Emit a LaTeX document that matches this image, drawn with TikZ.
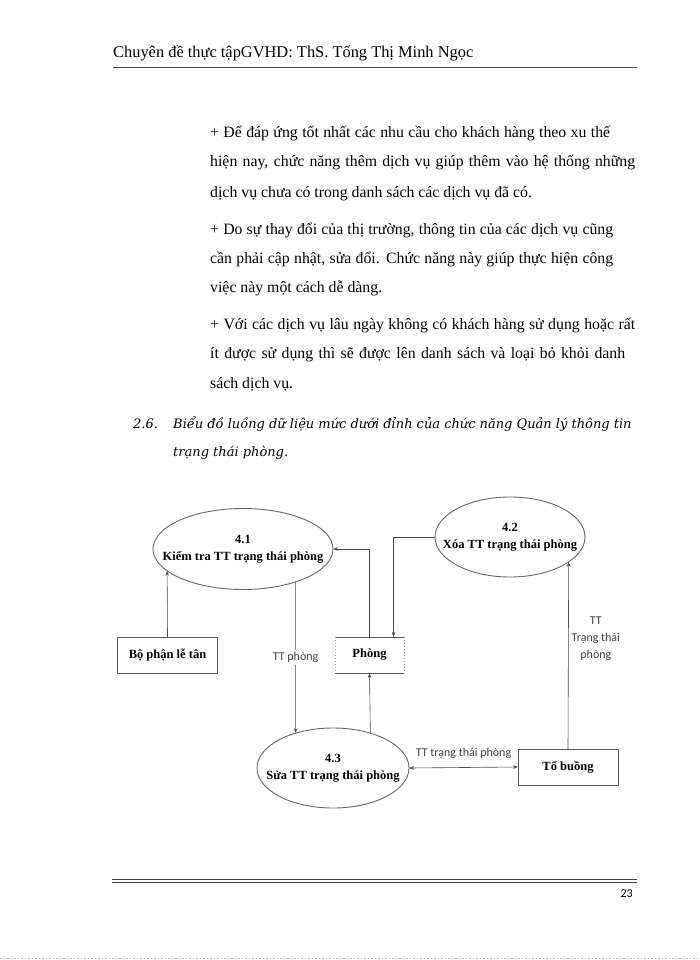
\documentclass[tikz,border=0pt]{standalone}
\usepackage{fontspec}
\setmainfont{Liberation Serif}
\newfontfamily\calibri{Carlito}
\newfontfamily\cambria{DejaVu Serif}
\usetikzlibrary{positioning,shapes.geometric,arrows.meta}
\newcommand\proctext[2]{\makebox[0pt]{#1}\\\makebox[0pt]{#2}}
\begin{document}
\begin{tikzpicture}[x=1pt,y=-1pt,line join=round,>={Stealth[length=5pt,width=3.5pt]}]
\tikzset{
  process/.style={ellipse,draw=black!60,line width=0.9pt,inner sep=0pt,outer sep=0pt,
    align=center,font=\fontsize{12.5}{17}\selectfont\bfseries},
  agent/.style={rectangle,draw=black!65,line width=0.8pt,minimum width=100,minimum height=36,
    inner sep=0pt,outer sep=0pt,font=\fontsize{12.5}{15}\selectfont\bfseries},
  store/.style={rectangle,minimum width=69,minimum height=36,inner sep=0pt,outer sep=0pt,
    font=\fontsize{12.5}{15}\selectfont\bfseries},
  flow/.style={->,draw=black!70,line width=0.6pt},
  flowlabel/.style={font=\calibri\fontsize{12}{17}\selectfont,text=black!75,inner sep=1pt},
  bodyline/.style={anchor=base west,inner sep=0pt,font=\fontsize{15.8}{18}\selectfont}
}
\fill[white] (0,0) rectangle (700,960);
\useasboundingbox (0,0) rectangle (700,960);

\node[anchor=base west,inner sep=0pt,font=\fontsize{16.4}{20}\selectfont] (header) at (113,58)
  {Chuyên đề thực tậpGVHD: ThS. Tống Thị Minh Ngọc};
\draw[black!70,line width=1pt] (113,68) -- (637,68);

\foreach \yy/\ww/\t [count=\i] in {
  138/400/{+ Để đáp ứng tốt nhất các nhu cầu cho khách hàng theo xu thế},
  167/425/{hiện nay, chức năng thêm dịch vụ giúp thêm vào hệ thống những},
  197/0/{dịch vụ chưa có trong danh sách các dịch vụ đã có.},
  234/403/{+ Do sự thay đổi của thị trường, thông tin của các dịch vụ cũng},
  263/403/{cần phải cập nhật, sửa đổi. Chức năng này giúp thực hiện công},
  292/0/{việc này một cách dễ dàng.},
  329/425/{+ Với các dịch vụ lâu ngày không có khách hàng sử dụng hoặc rất},
  358/415/{ít được sử dụng thì sẽ được lên danh sách và loại bỏ khỏi danh},
  388/0/{sách dịch vụ.}}
  \node[bodyline] (line\i) at (210,\yy) {\ifnum\ww=0 \t\else\makebox[\ww pt][s]{\t}\fi};

\node[anchor=base west,inner sep=0pt,font=\cambria\itshape\fontsize{13}{16}\selectfont] (secno) at (133,428) {2.6.};
\node[anchor=base west,inner sep=0pt,font=\cambria\itshape\fontsize{13}{16}\selectfont] (sect1) at (173,428)
  {Biểu đồ luồng dữ liệu mức dưới đỉnh của chức năng Quản lý thông tin};
\node[anchor=base west,inner sep=0pt,font=\cambria\itshape\fontsize{13}{16}\selectfont] (sect2) at (173,456)
  {trạng thái phòng.};

\node[process,minimum width=180,minimum height=81] (k41) at (243,549) {\proctext{4.1}{Kiểm tra TT trạng thái phòng}};
\node[process,minimum width=150,minimum height=80] (k42) at (510,537) {\proctext{4.2}{Xóa TT trạng thái phòng}};
\node[process,minimum width=152,minimum height=80] (k43) at (333,768) {\proctext{4.3}{Sửa TT trạng thái phòng}};
\node[agent] (letan) at (167.5,655) {Bộ phận lễ tân};
\node[store] (phong) at (369.5,655) {Phòng};
\node[agent] (tobuong) at (568,767) {Tổ buồng};
\coordinate (phongin) at ([xshift=24]phong.north);

\draw[black!65,line width=0.8pt] (phong.north west) -- (phong.north east) (phong.south west) -- (phong.south east);
\draw[black!35,line width=0.6pt,dash pattern=on 1pt off 2pt] (phong.north west) -- (phong.south west)
  (phong.north east) -- (phong.south east);

\draw[flow] (letan.north) -- (k41.196.28);
\draw[flow] (phong.north) |- (k41.east);
\draw[flow] (k41.-32.4) -- node[flowlabel,fill=white,inner sep=2pt] (lbl1) {TT phòng} (k43.137.7);
\draw[flow] (k43.43.9) -- (phong.south);
\draw[flow] (k42.west) -| (phongin);
\draw[flow,<->] (k43.east) -- node[flowlabel,above=8pt] (lbl2) {TT trạng thái phòng} (tobuong.west);
\draw[flow] (tobuong.north) -- node[flowlabel,pos=0.59,right=2pt,align=center] (lbl3) {TT\\Trạng thái\\phòng} (k42.-23.65);

\draw[black!75,line width=0.9pt] (112,879.3) -- (637,879.3) (112,882) -- (637,882);
\node[anchor=base east,inner sep=0pt,font=\calibri\fontsize{12}{14}\selectfont] (pageno) at (633,897) {23};
\draw[black!30,line width=0.6pt,dash pattern=on 1.5pt off 2pt] (0,958.5) -- (700,958.5);
\end{tikzpicture}
\end{document}
